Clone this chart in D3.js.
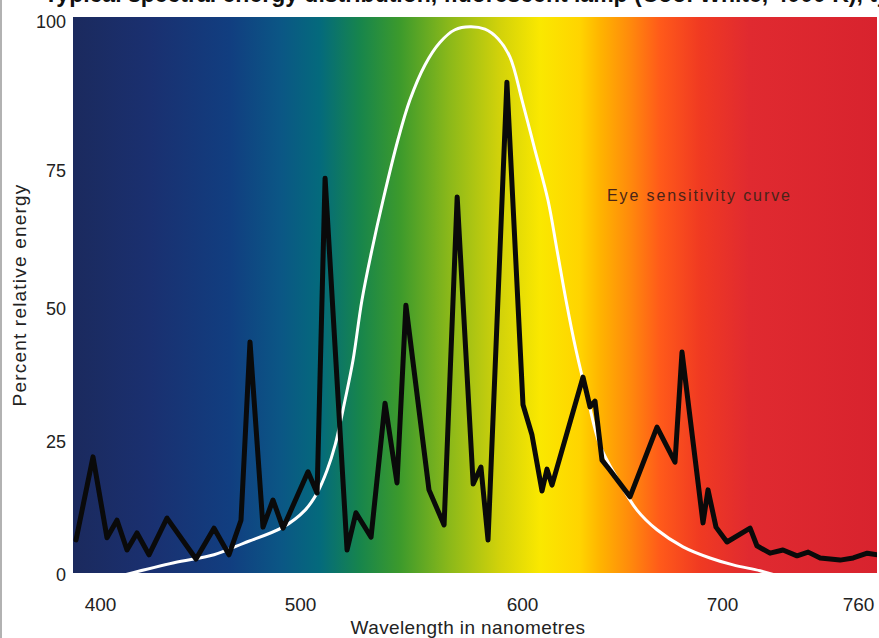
<!DOCTYPE html>
<html>
<head>
<meta charset="utf-8">
<script src="https://cdn.jsdelivr.net/npm/d3@7"></script>
<style>
  html, body { margin: 0; padding: 0; background: #fff; }
  #chart { width: 879px; height: 638px; overflow: hidden; }
  text { font-family: "Liberation Sans", Arial, sans-serif; }
</style>
</head>
<body>
<div id="chart"></div>
<script>
// ---- data ----
const wavelengthTicks = [400, 500, 600, 700, 760];
const energyTicks = [0, 25, 50, 75, 100];

// lamp spectrum (nm, percent)
const lampNm = [388, 396.5, 403.5, 408.5, 413.5, 418.5, 424.5, 433.5, 448, 457, 464.5, 470.5, 475, 481.5, 486.5, 491.5,
  503.6, 507.7, 511.3, 521.2, 525.2, 532, 538.3, 543.7, 547.7, 558.1, 564.9, 570.8, 578, 581.5, 584.7, 593.2,
  600.5, 605, 610, 612.5, 615, 630.5, 634, 636.5, 640, 644, 654, 667.5, 676.5, 680, 690.5, 693, 697,
  702.2, 712.4, 715.4, 721.2, 726.9, 733.1, 738, 743.3, 752.1, 757.9, 764.1, 768.5];
const lampEnergy = [6.6, 22.2, 7.0, 10.3, 4.7, 7.9, 3.8, 10.7, 3.0, 8.8, 3.8, 10.3, 43.8, 9.0, 14.1, 8.8,
  19.4, 15.4, 73.7, 4.7, 11.7, 7.1, 32.3, 17.3, 50.7, 16.0, 9.4, 70.3, 17.1, 20.3, 6.6, 89.9,
  32.0, 26.3, 15.8, 19.9, 16.9, 37.2, 31.6, 32.7, 21.6, 19.7, 14.7, 27.8, 21.2, 41.9, 9.8, 16.0, 9.0,
  6.2, 8.8, 5.5, 4.1, 4.7, 3.6, 4.3, 3.2, 2.8, 3.2, 4.1, 3.8];

// eye sensitivity curve (nm, percent)
const eyeNm = [412, 437, 457, 472, 491.5, 502.3, 507.7, 512.2, 515.8, 520.3, 523.9, 527.9, 532.4, 537.4, 544.1,
  549.5, 556.3, 563.1, 569.8, 576.6, 583.3, 589.2, 594.6, 600, 606.5, 613, 617.5, 622, 627, 633, 639, 648,
  657.5, 667.5, 680.5, 694, 704.9, 716.8, 723.4];
const eyeValue = [0, 2.3, 3.8, 6.0, 9.0, 12.2, 15.4, 19.7, 24.4, 32.9, 40.4, 51.6, 60.7, 69.7, 80.2,
  86.9, 92.8, 96.6, 98.7, 99.2, 98.8, 97.2, 94.1, 86.9, 78.5, 69.7, 60.7, 51.6, 42.3, 32.9, 24.4, 17.9,
  12.2, 8.5, 5.3, 3.2, 1.9, 0.8, 0];

// spectrum background colours by wavelength
const spectrumNm = [387, 425, 465, 490, 509, 527, 545, 567, 590, 609, 629, 639, 654, 669, 689, 712, 770];
const spectrumColor = ['#1b2a5e', '#1a3070', '#113e80', '#0b5685', '#046a7c', '#17854c', '#3c9a2c', '#8ab81a',
  '#d2d20a', '#fae800', '#ffd400', '#ffb400', '#ff8a0c', '#ff5a1a', '#f03a22', '#e02a30', '#d8232e'];

const width = 879, height = 638;
const plot = { left: 73, right: 877, top: 17, bottom: 573 };

const svg = d3.select('#chart').append('svg')
  .attr('width', width)
  .attr('height', height);

// scales (the printed figure is not quite even, so piecewise)
const x = d3.scaleLinear()
  .domain(wavelengthTicks)
  .range([100, 300, 522, 722, 858]);
const y = d3.scaleLinear()
  .domain(energyTicks)
  .range([575, 442, 309, 171, 22]);

// thin edge line on the left of the scan
svg.append('line')
  .attr('x1', 1).attr('x2', 1).attr('y1', 0).attr('y2', height)
  .attr('stroke', '#999').attr('stroke-width', 1.5);

// title, cut off at the top
svg.append('text')
  .attr('x', 44).attr('y', 2)
  .style('font-size', '23px').style('font-weight', 'bold').style('fill', '#111')
  .text('Typical spectral energy distribution, fluorescent lamp (Cool White, 4000 K), type 840');

// spectrum background
const grad = svg.append('defs').append('linearGradient')
  .attr('id', 'spectrum')
  .attr('gradientUnits', 'userSpaceOnUse')
  .attr('x1', plot.left).attr('x2', plot.right)
  .attr('y1', 0).attr('y2', 0);

grad.selectAll('stop')
  .data(spectrumNm)
  .enter().append('stop')
  .attr('offset', d => Math.max(0, Math.min(1, (x(d) - plot.left) / (plot.right - plot.left))))
  .attr('stop-color', (d, i) => spectrumColor[i]);

svg.append('rect')
  .attr('x', plot.left).attr('y', plot.top)
  .attr('width', plot.right - plot.left)
  .attr('height', plot.bottom - plot.top)
  .attr('fill', 'url(#spectrum)');

svg.append('clipPath').attr('id', 'clip')
  .append('rect')
  .attr('x', plot.left).attr('y', plot.top)
  .attr('width', plot.right - plot.left)
  .attr('height', plot.bottom - plot.top);

const g = svg.append('g').attr('clip-path', 'url(#clip)');

// eye sensitivity curve
const eyeLine = d3.line()
  .x(i => x(eyeNm[i]))
  .y(i => y(eyeValue[i]))
  .curve(d3.curveCatmullRom.alpha(0.5));

g.append('path')
  .attr('d', eyeLine(d3.range(eyeNm.length)))
  .attr('fill', 'none')
  .attr('stroke', '#fff')
  .attr('stroke-width', 3);

// lamp spectrum
const lampLine = d3.line()
  .x(i => x(lampNm[i]))
  .y(i => y(lampEnergy[i]));

g.append('path')
  .attr('d', lampLine(d3.range(lampNm.length)))
  .attr('fill', 'none')
  .attr('stroke', '#0a0a0a')
  .attr('stroke-width', 5)
  .attr('stroke-linejoin', 'round')
  .attr('stroke-linecap', 'round');

svg.append('text')
  .attr('x', 607).attr('y', 201)
  .style('font-size', '16px')
  .style('letter-spacing', '1.9px')
  .style('fill', '#4a2418')
  .text('Eye sensitivity curve');

// axes
const xAxis = svg.append('g')
  .attr('transform', `translate(0, ${plot.bottom})`)
  .call(d3.axisBottom(x).tickValues(wavelengthTicks).tickSize(0).tickPadding(25).tickFormat(d3.format('d')));
xAxis.select('.domain').remove();
xAxis.selectAll('text').style('font-size', '19px').style('fill', '#222')
  .style('font-family', '"Liberation Sans", Arial, sans-serif');

const yAxis = svg.append('g')
  .attr('transform', `translate(${plot.left}, 0)`)
  .call(d3.axisLeft(y).tickValues(energyTicks).tickSize(0).tickPadding(7));
yAxis.select('.domain').remove();
yAxis.selectAll('text').style('font-size', '18px').style('fill', '#222')
  .style('font-family', '"Liberation Sans", Arial, sans-serif');

svg.append('text')
  .attr('transform', 'translate(26, 295) rotate(-90)')
  .attr('text-anchor', 'middle')
  .style('font-size', '19px').style('letter-spacing', '1.2px').style('fill', '#222')
  .text('Percent relative energy');

svg.append('text')
  .attr('x', 468).attr('y', 634)
  .attr('text-anchor', 'middle')
  .style('font-size', '19px').style('letter-spacing', '0.4px').style('fill', '#222')
  .text('Wavelength in nanometres');
</script>
</body>
</html>
